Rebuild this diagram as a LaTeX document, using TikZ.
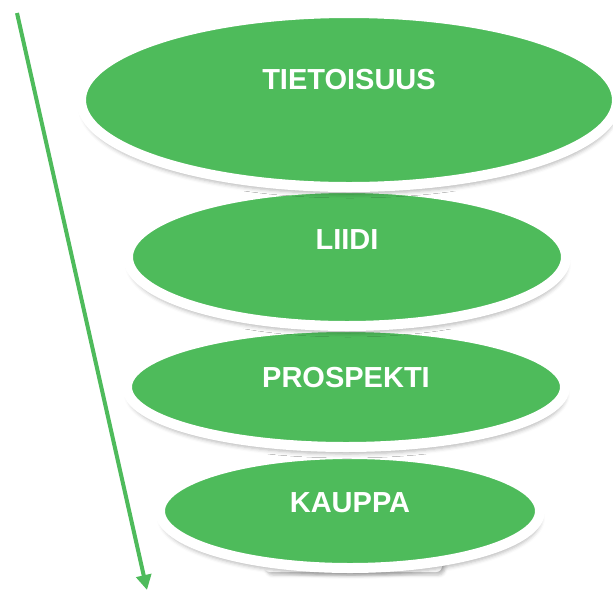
\documentclass[tikz,border=0pt]{standalone}
\usepackage{fontspec}
\setmainfont{Liberation Sans}
\usetikzlibrary{shapes.geometric,arrows.meta,shadows.blur}
\definecolor{stagegreen}{RGB}{78,187,91}
\tikzset{
  softshadow/.style={blur shadow={shadow xshift=1pt,shadow yshift=-7pt,
      shadow blur radius=4pt,shadow opacity=28}},
  stage/.style={ellipse,fill=stagegreen,draw=white,line width=10pt,
      inner sep=0pt,softshadow},
  stagetext/.style={text=white,font=\bfseries\fontsize{29}{34}\selectfont},
  flow/.style={stagegreen,line width=4pt,-{Triangle[length=15pt,width=15pt]}},
}

\begin{document}
\begin{tikzpicture}[x=1pt,y=-1pt]
\useasboundingbox (0,0) rectangle (613,590);
% funnel stages, bottom one first so every shadow falls onto the next
\fill[white,rounded corners=6pt,blur shadow={shadow yshift=-3pt,
  shadow blur radius=3pt,shadow opacity=25}] (264,545) rectangle (442,572);
\node[stage,minimum width=380,minimum height=114,
  label={[stagetext,yshift=8pt]center:KAUPPA}] (kauppa) at (350,511) {};
\node[stage,minimum width=438,minimum height=120,
  label={[stagetext,yshift=9pt]center:PROSPEKTI}] (prospekti) at (346,387) {};
\node[stage,minimum width=438,minimum height=138,
  label={[stagetext,yshift=17pt]center:LIIDI}] (liidi) at (347,257) {};
\node[stage,minimum width=536,minimum height=174,
  label={[stagetext,yshift=20pt]center:TIETOISUUS}] (tietoisuus) at (349,100) {};
% the long arrow on the left
\coordinate (start) at (17,13);
\coordinate (end) at (147,590);
\draw[flow] (start) -- (end);
\end{tikzpicture}
\end{document}
